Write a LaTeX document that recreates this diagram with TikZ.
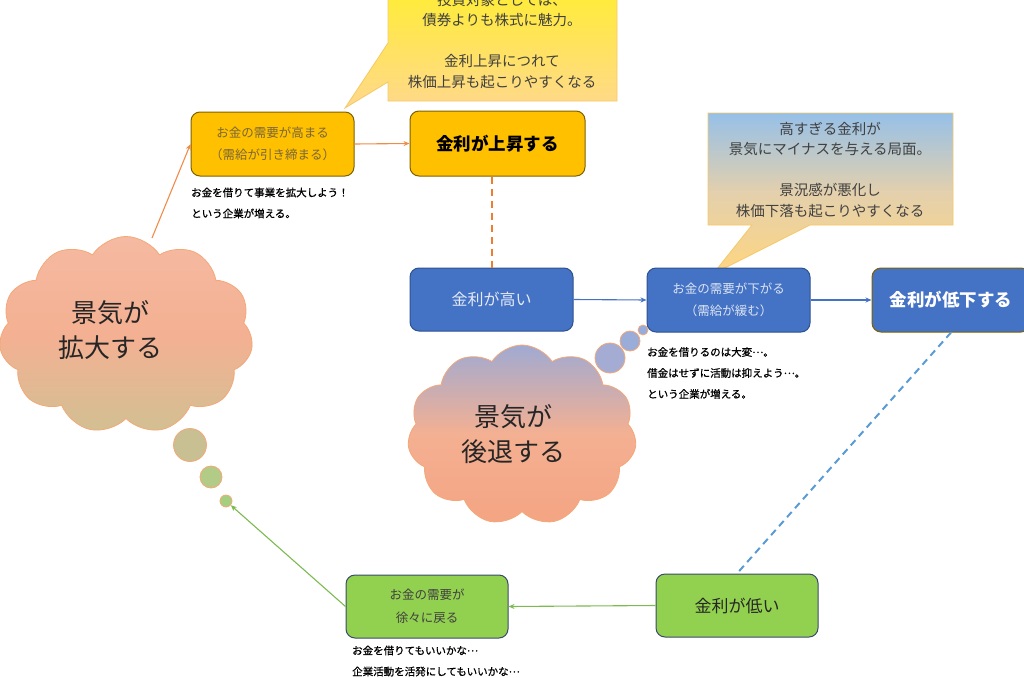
\documentclass[tikz,border=0pt]{standalone}
\usepackage{fontspec}
\setmainfont{Noto Sans CJK JP}
\newfontfamily\notefont[FakeBold=0.8]{Noto Sans CJK JP}
\newcommand{\jdots}{\raisebox{3pt}{…}}
\usetikzlibrary{shapes.symbols,arrows.meta,calc}
\definecolor{orfill}{HTML}{FFC000}
\definecolor{orline}{HTML}{7F6000}
\definecolor{ortext}{HTML}{7A6636}
\definecolor{blfill}{HTML}{4472C4}
\definecolor{blline}{HTML}{2F528F}
\definecolor{grfill}{HTML}{92D050}
\definecolor{grline}{HTML}{3B4A6B}
\definecolor{orarrow}{HTML}{F08C4A}
\definecolor{ordash}{HTML}{ED7D31}
\definecolor{blarrow}{HTML}{4472C4}
\definecolor{bldash}{HTML}{5B9BD5}
\definecolor{grarrow}{HTML}{7DBA50}
\definecolor{cloudline}{HTML}{F4A878}
\definecolor{calloutline}{HTML}{F5C86A}
\definecolor{txtgray}{HTML}{404040}
\begin{document}
\begin{tikzpicture}[x=1pt,y=-1pt,
  box/.style={rectangle, rounded corners=9pt, line width=1pt, inner sep=0pt, align=center},
  orbox/.style={box, fill=orfill, draw=orline},
  blbox/.style={box, fill=blfill, draw=blline},
  grbox/.style={box, fill=grfill, draw=grline},
  note/.style={anchor=west, align=left, inner sep=0pt, font=\notefont\fontsize{10.5}{21}\selectfont, text=black},
  calltext/.style={align=center, inner sep=0pt, font=\fontsize{14.5}{20.5}\selectfont, text=txtgray},
  cloudtext/.style={align=center, inner sep=0pt, font=\fontsize{26}{35}\selectfont, text=black!85},
  thought/.style={circle, inner sep=0pt, draw=cloudline, line width=0.8pt},
  arr/.style={-{Stealth[length=6pt,width=5pt]}, line width=1.1pt},
  dashline/.style={line width=2pt, dash pattern=on 7pt off 5pt},
]
\useasboundingbox (0,0) rectangle (1024,677);
\clip (0,0) rectangle (1024,677);

% callout 1
\path[shade, top color={rgb,255:red,255;green,240;blue,40}, bottom color={rgb,255:red,255;green,216;blue,140}, draw=calloutline, line width=0.8pt]
  (388,-30) -- (617,-30) -- (617,101) -- (388,101) -- (388,82) -- (345,108) -- (388,43) -- cycle;
\node[calltext] (call1) at (502,41) {投資対象としては、\\債券よりも株式に魅力。\\[20.5pt]金利上昇につれて\\株価上昇も起こりやすくなる};

% callout 2
\path[shade, top color={rgb,255:red,150;green,192;blue,232}, bottom color={rgb,255:red,255;green,214;blue,128}, middle color={rgb,255:red,228;green,208;blue,172}, draw=calloutline, line width=0.8pt]
  (708,113) -- (953,113) -- (953,225) -- (810,225) -- (713,274) -- (752,225) -- (708,225) -- cycle;
\node[calltext] (call2) at (830,170) {高すぎる金利が\\景気にマイナスを与える局面。\\[20.5pt]景況感が悪化し\\株価下落も起こりやすくなる};

% clouds
\node[cloud, cloud puffs=11, cloud puff arc=115, cloud ignores aspect, minimum width=254pt, minimum height=197pt, draw=cloudline, line width=0.8pt,
  top color={rgb,255:red,245;green,186;blue,162}, bottom color={rgb,255:red,210;green,192;blue,146}, middle color={rgb,255:red,244;green,176;blue,146}] (cl1) at (126,335) {};
\node[cloudtext] (cl1t) at (110,330) {景気が\\拡大する};
\node[thought, minimum size=33pt, fill={rgb,255:red,200;green,192;blue,146}] (t1) at (190,445) {};
\node[thought, minimum size=22pt, fill={rgb,255:red,178;green,204;blue,136}] (t2) at (211,477) {};
\node[thought, minimum size=12pt, fill={rgb,255:red,164;green,206;blue,128}] (t3) at (226,501) {};

\node[cloud, cloud puffs=11, cloud puff arc=115, cloud ignores aspect, minimum width=229pt, minimum height=180pt, draw=cloudline, line width=0.8pt,
  top color={rgb,255:red,160;green,170;blue,210}, bottom color={rgb,255:red,244;green,164;blue,130}, middle color={rgb,255:red,244;green,176;blue,146}] (cl2) at (522,435) {};
\node[cloudtext] (cl2t) at (513,434) {景気が\\後退する};
\node[thought, minimum size=30pt, fill={rgb,255:red,164;green,172;blue,212}] (u1) at (610,358) {};
\node[thought, minimum size=20pt, fill={rgb,255:red,154;green,172;blue,216}] (u2) at (630,341) {};
\node[thought, minimum size=10pt, fill={rgb,255:red,150;green,172;blue,220}] (u3) at (643,330) {};

% boxes
\node[orbox, minimum width=163pt, minimum height=64pt, text=ortext, font=\fontsize{12.5}{22}\selectfont] (b1) at (272.5,144) {お金の需要が高まる\\（需給が引き締まる）};
\node[orbox, minimum width=175pt, minimum height=65pt, text=black, font=\fontsize{17.5}{22}\selectfont\bfseries] (b2) at (497.5,143.5) {金利が上昇する};
\node[blbox, minimum width=163pt, minimum height=63pt, text={rgb,255:red,228;green,234;blue,246}, font=\fontsize{16}{22}\selectfont] (hi) at (491.5,299.5) {金利が高い};
\node[blbox, minimum width=163pt, minimum height=64pt, text={rgb,255:red,220;green,228;blue,244}, font=\fontsize{12.5}{22}\selectfont] (dn) at (728.5,300) {お金の需要が下がる\\（需給が緩む）};
\node[blbox, draw=orline, minimum width=158pt, minimum height=64pt, text=white, font=\fontsize{17.5}{22}\selectfont\bfseries] (lo3) at (951,300) {金利が低下する};
\node[grbox, minimum width=162pt, minimum height=63pt, text=black!85, font=\fontsize{17}{22}\selectfont] (low) at (737,605.5) {金利が低い};
\node[grbox, minimum width=162pt, minimum height=63pt, text=txtgray, font=\fontsize{12.5}{23}\selectfont] (ret) at (427,606.5) {お金の需要が\\徐々に戻る};

% notes
\node[note] (n1) at (191,203) {お金を借りて事業を拡大しよう！\\という企業が増える。};
\node[note] (n2) at (647,373) {お金を借りるのは大変\jdots。\\借金はせずに活動は抑えよう\jdots。\\という企業が増える。};
\node[note] (n3) at (352,661) {お金を借りてもいいかな\jdots\\企業活動を活発にしてもいいかな\jdots};

% connectors
\coordinate (c1top) at (152,238);
\draw[arr, orarrow] (c1top) -- (b1.west);
\draw[arr, orarrow] (b1.east) -- (b2.west);
\draw[draw=ordash, dashline] (hi.north |- b2.south) -- (hi.north);
\draw[arr, blarrow] (hi.east) -- (dn.west);
\draw[arr, blarrow] (dn.east) -- (lo3.west);
\draw[draw=bldash, dashline] (lo3.south) -- (low.north);
\draw[arr, grarrow] (low.west) -- (ret.east);
\draw[arr, grarrow] (ret.west) -- (t3);
\end{tikzpicture}
\end{document}
